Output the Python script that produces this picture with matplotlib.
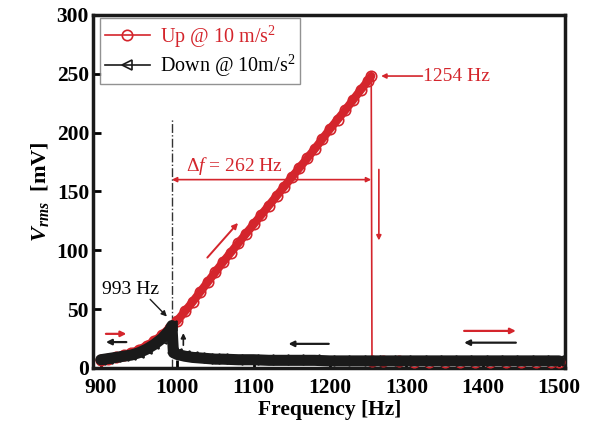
import matplotlib
matplotlib.use('Agg')
import matplotlib.pyplot as plt

plt.rcParams['font.family'] = 'Liberation Serif'
plt.rcParams['mathtext.fontset'] = 'custom'
plt.rcParams['mathtext.rm'] = 'Liberation Serif'
plt.rcParams['mathtext.it'] = 'Liberation Serif:italic'
plt.rcParams['mathtext.bf'] = 'Liberation Serif:bold'
plt.rcParams['mathtext.bfit'] = 'Liberation Serif:italic:bold'

RED = '#d4252c'
BLK = '#1a1a1a'

# sweep up
up_freq = [900, 910, 920, 930, 940, 950, 960, 970, 980, 990, 1000, 1010, 1020, 1030,
           1040, 1050, 1060, 1070, 1080, 1090, 1100, 1110, 1120, 1130, 1140, 1150,
           1160, 1170, 1180, 1190, 1200, 1210, 1220, 1230, 1240, 1250, 1254,
           1255, 1270, 1290, 1310, 1330, 1350, 1370, 1390, 1410, 1430, 1450, 1470,
           1490, 1500]
up_vrms = [7, 8, 9.5, 11, 13, 15.5, 19, 23, 28, 34, 40, 48, 56, 64.5,
           73, 81.5, 90, 98, 106, 114, 122, 130, 138, 146, 154, 162,
           170, 178, 186, 194.5, 203, 211, 219, 227.5, 236, 244, 248,
           6, 6, 6, 5.5, 5.5, 5.5, 5.5, 5.5, 5.5, 5.5, 5.5, 5.5,
           5.5, 5.5]
peak = up_freq.index(1254) + 1

# sweep down
down_freq = [1500, 1480, 1460, 1440, 1420, 1400, 1380, 1360, 1340, 1320, 1300, 1280,
             1260, 1240, 1220, 1200, 1180, 1160, 1140, 1120, 1100, 1080, 1060,
             1050, 1040, 1030, 1020, 1010, 1000, 995, 993,
             990, 980, 970, 960, 950, 940, 930, 920, 910, 900]
down_vrms = [6, 6, 6, 6, 6, 6, 6, 6, 6, 6, 6, 6,
             6, 6, 6, 6, 6.5, 6.5, 6.5, 6.5, 7, 7, 7.5,
             7.5, 8, 8.5, 9, 10, 11.5, 13, 36,
             32, 25, 20, 16, 13, 11, 10, 9, 8, 7]

fig = plt.figure(figsize=(5.9, 4.36), dpi=100)
ax = fig.add_axes([0.158, 0.156, 0.8, 0.81])

# dense marker bands
ax.plot(up_freq[:peak], up_vrms[:peak], '-', color=RED, lw=6, solid_capstyle='round', zorder=2)
ax.plot(up_freq, up_vrms, '-o', color=RED, lw=1.2, ms=7.5, mfc='none', mew=1.2,
        label='Up @ 10 m/s$^2$', zorder=3)
ax.plot(down_freq, down_vrms, '-', color=BLK, lw=8, solid_capstyle='round', zorder=4)
ax.plot(down_freq, down_vrms, '-<', color=BLK, lw=1.2, ms=7.5, mfc='none', mew=1.2,
        label='Down @ 10m/s$^2$', zorder=5)

# annotations
ax.plot([993, 993], [0, 212], color='#333333', lw=1, ls='-.', zorder=1)
ax.text(902, 67, '993 Hz', fontsize=14, va='center')
ax.annotate('', xy=(989, 42), xytext=(962, 60),
            arrowprops=dict(arrowstyle='-|>', color=BLK, lw=1, mutation_scale=8))
ax.annotate('', xy=(1008, 32), xytext=(1008, 17),
            arrowprops=dict(arrowstyle='-|>', color=BLK, lw=1.2, mutation_scale=7))

arr_red = dict(arrowstyle='-|>', color=RED, lw=1.6, mutation_scale=8)
arr_blk = dict(arrowstyle='-|>', color=BLK, lw=1.6, mutation_scale=8)
ax.annotate('', xy=(937, 29), xytext=(903, 29), arrowprops=arr_red)
ax.annotate('', xy=(903, 22), xytext=(937, 22), arrowprops=arr_blk)
ax.annotate('', xy=(1142, 20.5), xytext=(1202, 20.5), arrowprops=arr_blk)
ax.annotate('', xy=(1447, 31.5), xytext=(1372, 31.5), arrowprops=arr_red)
ax.annotate('', xy=(1372, 21.5), xytext=(1447, 21.5), arrowprops=arr_blk)
ax.annotate('', xy=(1082, 125), xytext=(1037, 92),
            arrowprops=dict(arrowstyle='-|>', color=RED, lw=1.4, mutation_scale=8))
ax.annotate('', xy=(1264, 106), xytext=(1264, 171),
            arrowprops=dict(arrowstyle='-|>', color=RED, lw=1.2, mutation_scale=7))

ax.annotate('', xy=(993, 160), xytext=(1254, 160),
            arrowprops=dict(arrowstyle='<|-|>', color=RED, lw=1.2, mutation_scale=7,
                            shrinkA=0, shrinkB=0))
ax.text(1011, 172, r'$Δf$ = 262 Hz', color=RED, fontsize=14, va='center')

ax.annotate('', xy=(1267, 248), xytext=(1321, 248),
            arrowprops=dict(arrowstyle='-|>', color=RED, lw=1.2, mutation_scale=7,
                            shrinkA=0, shrinkB=0))
ax.text(1322, 248, '1254 Hz', color=RED, fontsize=14, va='center')

ax.set_xlim(890, 1508)
ax.set_ylim(0, 300)
ax.set_xticks([900, 1000, 1100, 1200, 1300, 1400, 1500])
ax.set_yticks([0, 50, 100, 150, 200, 250, 300])
ax.tick_params(direction='in', length=6, width=2, labelsize=15.5)
ax.tick_params(axis='x', pad=7)
ax.tick_params(axis='y', pad=3)
for lab in ax.get_xticklabels() + ax.get_yticklabels():
    lab.set_fontweight('bold')
for sp in ax.spines.values():
    sp.set_linewidth(2.5)
    sp.set_color(BLK)

ax.set_xlabel('Frequency [Hz]', fontsize=15.5, fontweight='bold', labelpad=2)
ax.set_ylabel(r'$\mathbfit{V}_{\mathbfit{rms}}$  [mV]', fontsize=16, fontweight='bold', labelpad=4)

leg = ax.legend(loc='upper left', bbox_to_anchor=(0.015, 0.99), borderaxespad=0,
                fontsize=14.5, frameon=True, fancybox=False, handlelength=2.2,
                handletextpad=0.5, borderpad=0.25, labelspacing=0.15)
leg.get_frame().set_edgecolor('#777777')
leg.get_frame().set_linewidth(1)
leg.get_texts()[0].set_color(RED)

fig.savefig('out.png', dpi=100)
